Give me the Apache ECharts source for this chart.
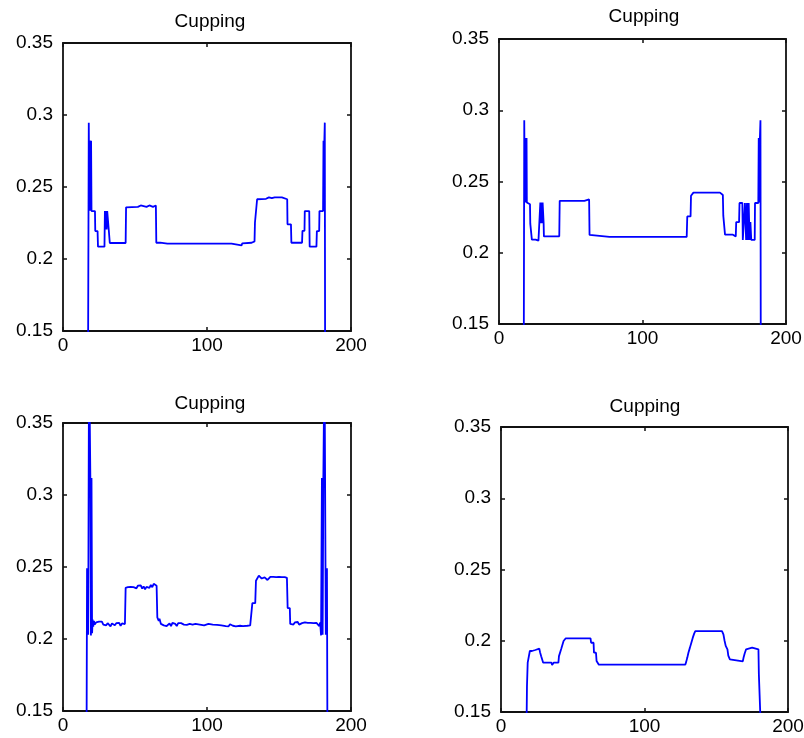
<!DOCTYPE html>
<html>
<head>
<meta charset="utf-8">
<script src="https://cdn.jsdelivr.net/npm/echarts@6/dist/echarts.min.js"></script>
<style>html,body{margin:0;padding:0;background:#fff}#c{width:804px;height:738px}</style>
</head>
<body>
<div id="c"></div>
<script>
// ---- data ----
var titles = ["Cupping", "Cupping", "Cupping", "Cupping"];
var xTicks = [0, 100, 200];
var yTicks = [0.15, 0.2, 0.25, 0.3, 0.35];

// top-left
var tlX = [17, 17.9, 18.3, 18.7, 19.1, 19.5, 19.8, 22.2, 22.4, 24.0, 24.3, 26.5, 26.8, 27.5, 27.8, 28.8, 29.1, 29.5, 29.9, 30.3, 30.7, 31.5, 31.8, 32.3, 32.5, 43.5, 43.8, 52, 52.5, 54, 54.5, 58, 58.5, 60, 60.5, 62.5, 63, 64.5, 64.8, 67.5, 68, 72.5, 73, 73.5, 76.5, 77, 77.5, 80.5, 81, 81.5, 93.5, 94, 94.5, 97, 97.5, 98, 100.5, 101, 101.5, 104, 104.5, 105, 107.5, 108, 108.5, 111, 111.5, 112, 114.5, 115, 115.5, 117, 117.5, 124, 124.5, 131, 133, 133.3, 134.5, 134.8, 141, 143, 145, 147, 152, 153, 155.7, 155.9, 158.3, 158.6, 166, 166.3, 167.7, 167.9, 171, 171.3, 176, 176.3, 177.9, 178.1, 180.6, 180.9, 181.2, 181.5, 181.8, 182.2];
var tlY = [0, 0.2947, 0.2335, 0.2822, 0.2335, 0.2822, 0.2333, 0.2333, 0.2194, 0.2194, 0.2086, 0.2086, 0.2076, 0.2076, 0.2086, 0.2086, 0.2333, 0.2205, 0.2333, 0.2205, 0.2333, 0.2333, 0.2200, 0.2200, 0.2111, 0.2111, 0.2359, 0.2362, 0.2372, 0.2372, 0.2362, 0.2362, 0.2372, 0.2372, 0.2362, 0.2362, 0.2372, 0.2372, 0.2113, 0.2113, 0.2107, 0.2107, 0.2097, 0.2107, 0.2107, 0.2097, 0.2107, 0.2107, 0.2097, 0.2107, 0.2107, 0.2097, 0.2107, 0.2107, 0.2097, 0.2107, 0.2107, 0.2097, 0.2107, 0.2107, 0.2097, 0.2107, 0.2107, 0.2097, 0.2107, 0.2107, 0.2097, 0.2107, 0.2107, 0.2097, 0.2107, 0.2107, 0.2094, 0.2094, 0.2109, 0.2113, 0.2122, 0.2252, 0.2252, 0.2415, 0.2418, 0.2428, 0.2422, 0.2428, 0.2428, 0.2418, 0.2415, 0.2241, 0.2241, 0.2113, 0.2113, 0.2196, 0.2196, 0.2333, 0.2333, 0.2086, 0.2086, 0.2194, 0.2194, 0.2333, 0.2333, 0.2822, 0.2335, 0.2822, 0.2947, 0];

// top-right
var trX = [17, 17.6, 18.0, 18.4, 18.8, 19.2, 19.4, 21.6, 21.8, 22.7, 22.9, 25.5, 25.8, 27.5, 27.8, 28.6, 28.8, 29.2, 29.6, 30.0, 30.4, 30.9, 31.1, 31.3, 42, 42.3, 50, 50.4, 51, 56, 56.5, 57, 59.5, 60, 62.8, 63.1, 64, 64.3, 77, 77.5, 78, 80.3, 80.8, 81.3, 97.5, 98, 98.5, 101.3, 101.8, 102.3, 130.8, 131.2, 133.5, 133.8, 135, 135.5, 154, 155, 156, 156.3, 157.2, 157.5, 163, 163.3, 165, 165.3, 167.3, 167.6, 169.6, 169.9, 171.2, 171.4, 172.2, 172.8, 173.4, 174, 174.6, 175.2, 175.8, 178.2, 178.4, 180.7, 181.0, 181.4, 181.8, 182.2, 182.6];
var trY = [0, 0.2929, 0.2353, 0.2805, 0.2353, 0.2805, 0.2353, 0.2340, 0.2204, 0.2204, 0.2092, 0.2092, 0.2085, 0.2085, 0.2092, 0.2092, 0.2353, 0.2208, 0.2353, 0.2208, 0.2353, 0.2353, 0.2208, 0.2115, 0.2115, 0.2364, 0.2364, 0.2374, 0.2364, 0.2364, 0.2374, 0.2364, 0.2364, 0.2374, 0.2374, 0.2125, 0.2125, 0.2111, 0.2111, 0.2100, 0.2111, 0.2111, 0.2100, 0.2111, 0.2111, 0.2100, 0.2111, 0.2111, 0.2100, 0.2111, 0.2111, 0.2255, 0.2255, 0.2400, 0.2400, 0.2422, 0.2422, 0.2410, 0.2405, 0.2260, 0.2260, 0.2127, 0.2127, 0.2115, 0.2115, 0.2215, 0.2215, 0.2349, 0.2349, 0.2090, 0.2090, 0.2349, 0.2090, 0.2349, 0.2090, 0.2349, 0.2090, 0.2215, 0.2090, 0.2090, 0.2349, 0.2349, 0.2805, 0.2353, 0.2805, 0.2929, 0];

// bottom-left
var blX = [16, 16.7, 17.5, 18.1, 19.0, 19.4, 19.8, 20.2, 20.6, 21, 21.5, 22, 23, 24, 25, 26, 27, 28, 29, 30, 31, 32, 33, 34, 35, 36, 37, 38, 39, 40, 41, 42, 43, 43.5, 45, 46, 47, 48, 49, 50, 51, 52, 53, 54, 55, 56, 57, 58, 59, 60, 61, 62, 63, 64, 65, 65.5, 66.5, 67, 68, 69, 70, 71, 72, 73, 74, 75, 76, 77, 78, 79, 80, 81, 82, 84, 85, 86, 88, 89, 90, 92, 93, 95, 96, 98, 99, 101, 102, 104, 105, 107, 108, 110, 111, 113, 114, 115, 116, 118, 119, 120, 121, 123, 124, 125, 126, 128, 129, 130, 131, 131.5, 133.5, 134, 135, 136, 137, 138, 139, 140, 141, 142, 143, 144, 145, 146, 148, 150, 152, 153, 154, 155.5, 156, 157.5, 157.8, 159, 160, 161, 162, 163, 164, 165, 166, 167, 168, 169, 170, 171, 172, 173, 174, 175, 176, 177, 178, 178.6, 179.2, 179.8, 180.3, 180.8, 181.6, 182.5, 183.3, 184];
var blY = [0, 0.2492, 0.2030, 0.40, 0.3118, 0.2025, 0.3118, 0.2040, 0.2135, 0.2085, 0.2125, 0.2100, 0.2115, 0.2105, 0.2120, 0.2110, 0.2120, 0.2100, 0.2112, 0.2095, 0.2110, 0.2105, 0.2088, 0.2108, 0.2112, 0.2096, 0.2110, 0.2100, 0.2112, 0.2092, 0.2108, 0.2100, 0.2104, 0.2355, 0.2360, 0.2372, 0.2362, 0.2375, 0.2360, 0.2368, 0.2352, 0.2370, 0.2358, 0.2372, 0.2350, 0.2365, 0.2345, 0.2362, 0.2368, 0.2355, 0.2375, 0.2360, 0.2383, 0.2372, 0.2370, 0.2150, 0.2125, 0.2140, 0.2105, 0.2110, 0.2095, 0.2100, 0.2090, 0.2100, 0.2108, 0.2090, 0.2112, 0.2100, 0.2105, 0.2090, 0.2110, 0.2098, 0.2110, 0.2100, 0.2105, 0.2098, 0.2105, 0.2095, 0.2100, 0.2105, 0.2098, 0.2100, 0.2105, 0.2095, 0.2100, 0.2105, 0.2097, 0.2100, 0.2106, 0.2098, 0.2102, 0.2095, 0.2105, 0.2090, 0.2100, 0.2088, 0.2102, 0.2092, 0.2105, 0.2088, 0.2100, 0.2092, 0.2102, 0.2090, 0.2100, 0.2092, 0.2104, 0.2095, 0.2105, 0.2249, 0.2249, 0.2405, 0.2411, 0.2440, 0.2430, 0.2420, 0.2432, 0.2428, 0.2418, 0.2410, 0.2420, 0.2432, 0.2430, 0.2432, 0.2430, 0.2432, 0.2430, 0.2438, 0.2430, 0.2425, 0.2215, 0.2215, 0.2105, 0.2110, 0.2100, 0.2115, 0.2110, 0.2118, 0.2100, 0.2092, 0.2110, 0.2098, 0.2115, 0.2110, 0.2112, 0.2105, 0.2112, 0.2108, 0.2110, 0.2100, 0.2112, 0.2105, 0.2090, 0.2115, 0.2025, 0.3118, 0.2030, 0.3118, 0.40, 0.2030, 0.2492, 0];

// bottom-right
var brX = [17.8, 18.1, 18.6, 19.9, 20.1, 21.6, 22, 23.9, 24.2, 26.7, 27.2, 28, 29, 29.4, 35.2, 35.6, 36.3, 36.7, 40, 40.4, 41.6, 42, 43.2, 43.6, 44.6, 45, 62.4, 62.8, 64.5, 64.8, 66.2, 66.6, 67.8, 68.2, 89, 89.3, 90, 90.3, 99.4, 99.7, 100.4, 100.7, 109.4, 109.7, 110.4, 110.7, 116.3, 116.6, 117.3, 117.6, 128.4, 129, 129.8, 130.6, 131.6, 132.6, 133.6, 134.6, 135.4, 154, 155, 155.8, 156.6, 157.8, 158.4, 159.5, 160.6, 168.5, 169, 169.8, 170.8, 172, 175, 175.6, 179.4, 179.7, 180.4, 181];
var brY = [0.14, 0.1682, 0.1846, 0.1846, 0.1928, 0.1928, 0.1935, 0.1935, 0.1944, 0.1944, 0.1920, 0.1892, 0.1892, 0.1846, 0.1846, 0.1830, 0.1830, 0.1846, 0.1846, 0.1892, 0.1892, 0.1944, 0.1944, 0.1998, 0.1998, 0.2016, 0.2016, 0.1986, 0.1986, 0.1916, 0.1916, 0.1858, 0.1858, 0.1832, 0.1832, 0.1846, 0.1846, 0.1832, 0.1832, 0.1846, 0.1846, 0.1832, 0.1832, 0.1846, 0.1846, 0.1832, 0.1832, 0.1846, 0.1846, 0.1832, 0.1832, 0.1850, 0.1880, 0.1916, 0.1950, 0.1985, 0.2020, 0.2050, 0.2068, 0.2068, 0.2045, 0.2000, 0.1964, 0.1940, 0.1895, 0.1869, 0.1856, 0.1856, 0.1880, 0.1910, 0.1940, 0.1951, 0.1951, 0.1940, 0.1940, 0.1764, 0.1764, 0.14];

var seriesX = [tlX, trX, blX, brX];
var seriesY = [tlY, trY, blY, brY];

// ---- layout ----
var grids = [
  {left: 63, top: 43, width: 288, height: 288},
  {left: 499, top: 39, width: 287, height: 285},
  {left: 63, top: 423, width: 288, height: 288},
  {left: 501, top: 427, width: 287, height: 285}
];
var titlePos = [[205, 7], [639, 2], [205, 389], [640, 392]];

var FONT = "'Liberation Sans', Arial, sans-serif";
var option = {animation: false, backgroundColor: '#fff', grid: [], xAxis: [], yAxis: [], series: [], title: []};

function fmt(v) { return String(+v.toFixed(2)); }

grids.forEach(function (g, i) {
  option.grid.push({left: g.left, top: g.top, width: g.width, height: g.height, containLabel: false, outerBoundsMode: 'none', show: false});
  var axLine = {show: true, onZero: false, lineStyle: {color: '#111', width: 1.8}};
  var tick = {show: true, inside: true, length: 4, lineStyle: {color: '#111', width: 1.5}};
  option.xAxis.push({gridIndex: i, type: 'value', position: 'bottom', min: xTicks[0], max: xTicks[xTicks.length - 1], interval: xTicks[1] - xTicks[0],
    axisLine: axLine, axisTick: tick, splitLine: {show: false},
    axisLabel: {show: true, color: '#000', fontSize: 19, fontFamily: FONT, margin: 5}});
  option.xAxis.push({gridIndex: i, type: 'value', position: 'top', min: xTicks[0], max: xTicks[xTicks.length - 1], interval: xTicks[1] - xTicks[0],
    axisLine: axLine, axisTick: tick, splitLine: {show: false}, axisLabel: {show: false}});
  option.yAxis.push({gridIndex: i, type: 'value', position: 'left', min: yTicks[0], max: yTicks[yTicks.length - 1], interval: 0.05,
    axisLine: axLine, axisTick: tick, splitLine: {show: false},
    axisLabel: {show: true, color: '#000', fontSize: 19, fontFamily: FONT, margin: 10, formatter: fmt}});
  option.yAxis.push({gridIndex: i, type: 'value', position: 'right', min: yTicks[0], max: yTicks[yTicks.length - 1], interval: 0.05,
    axisLine: axLine, axisTick: tick, splitLine: {show: false}, axisLabel: {show: false}});
  var d = seriesX[i].map(function (x, k) { return [x, seriesY[i][k]]; });
  option.series.push({type: 'line', xAxisIndex: 2 * i, yAxisIndex: 2 * i, data: d, showSymbol: false, symbol: 'none', clip: true,
    lineStyle: {color: '#0000ff', width: 1.8}, itemStyle: {color: '#0000ff'}});
  option.title.push({text: titles[i], left: titlePos[i][0], top: titlePos[i][1], textAlign: 'center',
    textStyle: {fontSize: 19, fontWeight: 'normal', color: '#000', fontFamily: FONT}});
});

var chart = echarts.init(document.getElementById('c'), null, {renderer: 'canvas'});
chart.setOption(option);
</script>
</body>
</html>
